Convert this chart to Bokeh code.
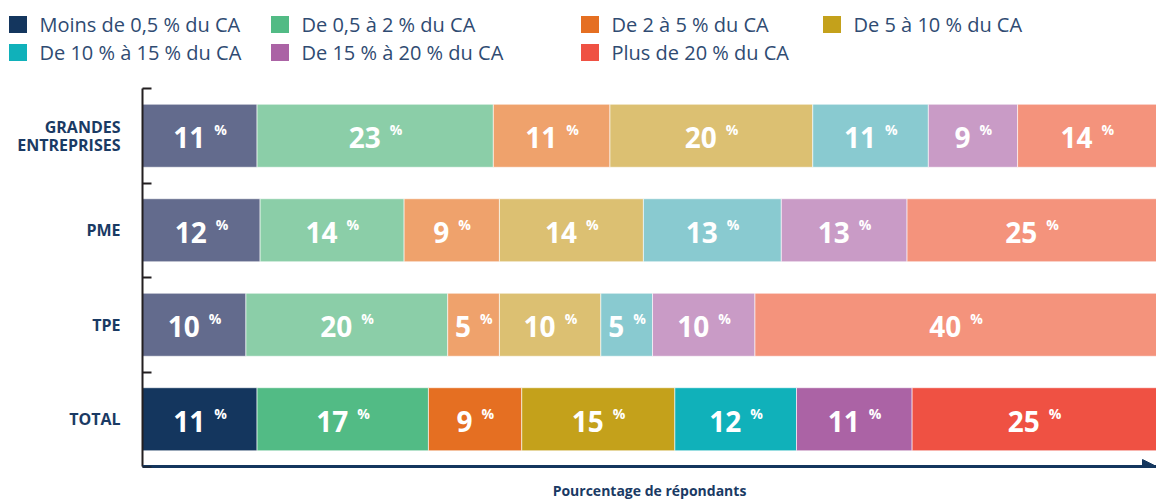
import numpy as np
from bokeh.plotting import figure
from bokeh.layouts import column
from bokeh.models import (Range1d, LinearAxis, FixedTicker,
                          ColumnDataSource, Arrow, NormalHead)
from bokeh.core.properties import value
from bokeh.embed import file_html
from bokeh.resources import INLINE

# ---------------- data ----------------
series = ["Moins de 0,5 % du CA", "De 0,5 à 2 % du CA", "De 2 à 5 % du CA",
          "De 5 à 10 % du CA", "De 10 % à 15 % du CA", "De 15 % à 20 % du CA",
          "Plus de 20 % du CA"]
categories = ["GRANDES\nENTREPRISES", "PME", "TPE", "TOTAL"]

# bar lengths
ge_values = [11.3, 23.3, 11.5, 20.0, 11.4, 8.8, 13.7]
pme_values = [11.6, 14.2, 9.4, 14.2, 13.6, 12.4, 24.6]
tpe_values = [10.2, 19.9, 5.1, 10.0, 5.1, 10.1, 39.6]
total_values = [11.3, 16.9, 9.2, 15.1, 12.0, 11.4, 24.1]

# printed labels
ge_labels = ["11", "23", "11", "20", "11", "9", "14"]
pme_labels = ["12", "14", "9", "14", "13", "13", "25"]
tpe_labels = ["10", "20", "5", "10", "5", "10", "40"]
total_labels = ["11", "17", "9", "15", "12", "11", "25"]

full_colors = ["#14365e", "#52bb85", "#e56f22", "#c4a11b", "#10b1ba", "#ab63a5", "#ef5143"]
light_colors = ["#636b8d", "#8bcea8", "#efa26c", "#dcc072", "#89cad0", "#c99bc6", "#f4937c"]

NAVY = "#1a3a64"
TEXT = "#2f4b72"
FONT = "Open Sans"

# ---------------- legend figure ----------------
W = 1156
LEG_H = 78
leg = figure(width=W, height=LEG_H, x_range=Range1d(0, W), y_range=Range1d(LEG_H, 0),
             x_axis_type=None, y_axis_type=None, output_backend="svg",
             toolbar_location=None, min_border=0)
leg.frame_align = False
leg.outline_line_color = None
leg.xgrid.visible = False
leg.ygrid.visible = False
col_x = [8, 270, 580, 822]
row_y = [24, 52]
lx, ly, lt, lc = [], [], [], []
for i, name in enumerate(series):
    r, c = divmod(i, 4)
    lx.append(col_x[c]); ly.append(row_y[r]); lt.append(name); lc.append(full_colors[i])
lx = np.array(lx, dtype=float)
leg.rect(x=lx + 9.5, y=ly, width=18, height=17, width_units="screen",
         height_units="screen", fill_color=lc, line_color=None)
leg.text(x=lx + 31, y=ly, text=lt, text_baseline="middle", text_align="left",
         text_font=value(FONT), text_font_size="20px", text_color=TEXT)

# ---------------- main figure ----------------
n = len(categories)
ypos = {c: n - 1 - i + 0.5 for i, c in enumerate(categories)}

p = figure(width=W, height=502 - LEG_H, x_range=Range1d(0, 100), y_range=Range1d(0, n),
           output_backend="svg", toolbar_location=None,
           min_border_left=142, min_border_right=0, min_border_top=10,
           min_border_bottom=36)
p.frame_align = False
p.outline_line_color = None
p.xgrid.visible = False
p.ygrid.visible = False

ya = p.yaxis[0]
ya.ticker = FixedTicker(ticks=list(range(n + 1)))
ya.major_label_overrides = {t: "" for t in range(n + 1)}
ya.major_tick_in = 9
ya.major_tick_out = 0
ya.major_tick_line_width = 2
ya.major_tick_line_color = "#231f20"
ya.minor_tick_line_color = None
ya.axis_line_width = 2
ya.axis_line_color = "#231f20"
ya.major_label_standoff = 0

cax = LinearAxis(ticker=FixedTicker(ticks=[ypos[c] for c in categories]),
                 major_label_overrides={ypos[c]: c for c in categories},
                 axis_line_color=None, major_tick_line_color=None,
                 minor_tick_line_color=None, major_label_standoff=16,
                 major_label_text_font=FONT, major_label_text_font_style="bold",
                 major_label_text_font_size="16px", major_label_text_color=NAVY,
                 major_label_text_line_height=0.8)
p.add_layout(cax, "left")

xa = p.xaxis[0]
xa.ticker = FixedTicker(ticks=[])
xa.major_tick_line_color = None
xa.minor_tick_line_color = None
xa.major_label_standoff = 0
xa.axis_line_color = "#14365e"
xa.axis_line_width = 3
xa.axis_label = "Pourcentage de répondants"
xa.axis_label_standoff = 14
xa.axis_label_text_font = FONT
xa.axis_label_text_font_style = "bold"
xa.axis_label_text_font_size = "14px"
xa.axis_label_text_color = NAVY

rows = [(categories[0], ge_values, ge_labels, light_colors),
        (categories[1], pme_values, pme_labels, light_colors),
        (categories[2], tpe_values, tpe_labels, light_colors),
        (categories[3], total_values, total_labels, full_colors)]

bar = dict(y=[], left=[], right=[], color=[], mid=[], lab=[], noff=[], poff=[])
DIGIT = 16.0
for cat, vals, labs, cols in rows:
    v = np.array(vals)
    right = np.cumsum(v)
    left = right - v
    for l, r, s, c in zip(left, right, labs, cols):
        nw = len(s) * DIGIT
        wtot = nw + 9 + 12
        noff = -wtot / 2 + nw
        bar["y"].append(ypos[cat]); bar["left"].append(l); bar["right"].append(r)
        bar["color"].append(c); bar["mid"].append((l + r) / 2); bar["lab"].append(s)
        bar["noff"].append(noff); bar["poff"].append(noff + 9)
src = ColumnDataSource(bar)
p.hbar(y="y", left="left", right="right", height=0.667, fill_color="color",
       line_color="white", line_width=0.6, source=src)
p.text(x="mid", y="y", text="lab", x_offset="noff", y_offset=2, text_align="right",
       text_baseline="alphabetic", text_color="white", text_font=value(FONT),
       text_font_style="bold", text_font_size="28px", source=src)
p.text(x="mid", y="y", text=value("%"), x_offset="poff", y_offset=-6, text_align="left",
       text_baseline="alphabetic", text_color="white", text_font=value(FONT),
       text_font_style="bold", text_font_size="14px", source=src)

p.add_layout(Arrow(end=NormalHead(size=14, fill_color="#14365e", line_color="#14365e"),
                   x_start=0, y_start=0, x_end=100, y_end=0,
                   line_color="#14365e", line_width=3))

layout = column(leg, p, spacing=0)
open("out.html", "w").write(file_html(layout, INLINE))
